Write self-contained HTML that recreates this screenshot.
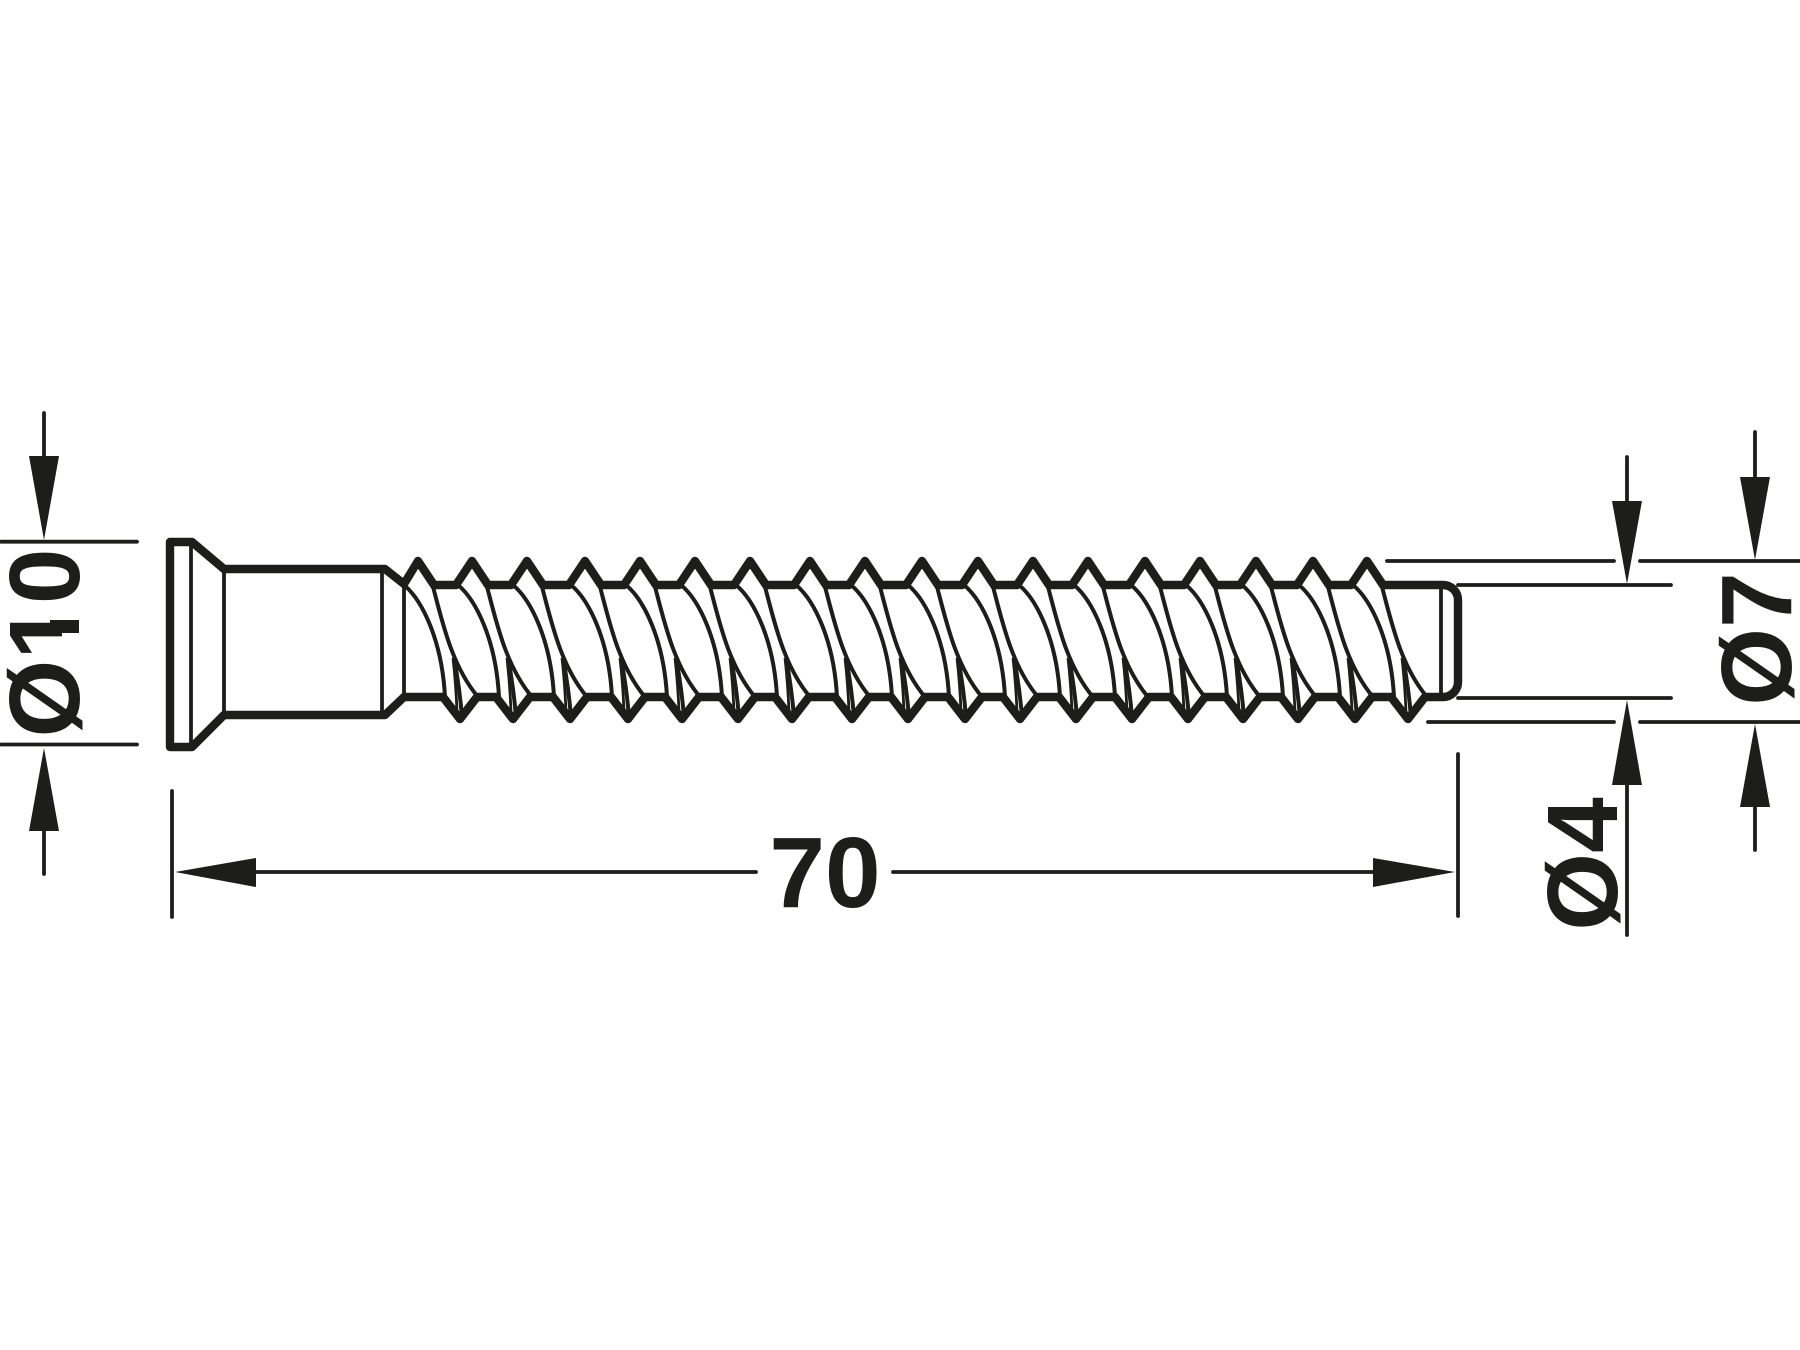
<!DOCTYPE html>
<html><head><meta charset="utf-8"><style>html,body{margin:0;padding:0;background:#fff}svg{display:block}</style></head><body>
<svg xmlns="http://www.w3.org/2000/svg" width="1800" height="1350" viewBox="0 0 1800 1350">
<rect width="1800" height="1350" fill="#fff"/>
<defs>
<g id="t" fill="none" stroke="#1d1d1b" stroke-width="4">
<path d="M-14,585 C4,600 24,640 27,697"/>
<path d="M14,583 C24,620 33,665 60,697"/>
<path d="M36,658 Q42,690 44,718"/>
<path d="M35,658 Q38,685 39,712" stroke-width="2.8"/>
</g>
</defs>
<!-- threads -->
<use href="#t" x="418"/><use href="#t" x="472"/><use href="#t" x="527"/><use href="#t" x="585"/><use href="#t" x="640"/><use href="#t" x="695"/><use href="#t" x="750"/><use href="#t" x="810"/><use href="#t" x="865"/><use href="#t" x="922"/><use href="#t" x="978"/><use href="#t" x="1033"/><use href="#t" x="1088"/><use href="#t" x="1145"/><use href="#t" x="1200"/><use href="#t" x="1256"/><use href="#t" x="1313"/><use href="#t" x="1367"/>
<!-- screw thin -->
<g fill="none" stroke="#1d1d1b" stroke-width="3.8">
<path d="M191,542V747M224,569V715M382,569V715M404,585V697M1441,585V697"/>
</g>
<!-- screw thick -->
<g fill="none" stroke="#1d1d1b" stroke-width="8.4" stroke-linejoin="round" stroke-linecap="round">
<path d="M224,569L192,542H170V747H192L224,715H385L404,697H443L460,719L477,697H496L513,719L530,697H553L570,719L587,697H611L628,719L645,697H665L682,719L699,697H721L738,719L755,697H775L792,719L809,697H835L852,719L869,697H891L908,719L925,697H948L965,719L982,697H1003L1020,719L1037,697H1059L1076,719L1093,697H1115L1132,719L1149,697H1171L1188,719L1205,697H1226L1243,719L1260,697H1281L1298,719L1315,697H1338L1355,719L1372,697H1391L1408,719L1425,697H1443A15,15 0 0 0 1458,682V600A15,15 0 0 0 1443,585H1383L1367,561L1351,585H1329L1313,561L1297,585H1272L1256,561L1240,585H1216L1200,561L1184,585H1161L1145,561L1129,585H1104L1088,561L1072,585H1049L1033,561L1017,585H994L978,561L962,585H938L922,561L906,585H881L865,561L849,585H826L810,561L794,585H766L750,561L734,585H711L695,561L679,585H656L640,561L624,585H601L585,561L569,585H543L527,561L511,585H488L472,561L456,585H434L418,561L404,584L385,569Z"/>
</g>
<!-- dimension lines -->
<g fill="none" stroke="#1d1d1b" stroke-width="3.8" stroke-linecap="round">
<path d="M1,541.7H137M1,744.5H137M44,413V470M44,820V874"/>
<path d="M172,791V917M1458,754V916M240,872H756M893,872H1390"/>
<path d="M1387,561H1614M1640,561H1800M1428,722H1614M1640,722H1800M1458,585H1671M1458,698H1671"/>
<path d="M1627,457V510M1627,775V935M1755,432V485M1755,800V850"/>
</g>
<!-- arrowheads -->
<g fill="#1d1d1b">
<path d="M29,456H59L44,540Z"/>
<path d="M29,831H59L44,748Z"/>
<path d="M256,858V887L175,872Z"/>
<path d="M1373,858V887L1455,872Z"/>
<path d="M1612,501H1642L1627,584Z"/>
<path d="M1612,785H1642L1627,700Z"/>
<path d="M1740,477H1770L1755,560Z"/>
<path d="M1740,807H1770L1755,724Z"/>
</g>
<!-- labels -->
<g fill="#1d1d1b" font-family="'Liberation Sans',Arial,sans-serif" font-weight="700" font-size="100" text-anchor="middle">
<text transform="translate(79,643) rotate(-90)">Ø10</text>
<text transform="translate(1617,864) rotate(-90)">Ø4</text>
<text transform="translate(1791,639) rotate(-90)">Ø7</text>
<text x="825" y="907">70</text>
</g>
<!-- the reference "1" has no foot serif -->
<rect x="62" y="604" width="21" height="16" fill="#fff"/>
<rect x="62" y="633" width="21" height="28" fill="#fff"/>
<rect x="50" y="620" width="29" height="13" fill="#1d1d1b"/>
</svg>
</body></html>
